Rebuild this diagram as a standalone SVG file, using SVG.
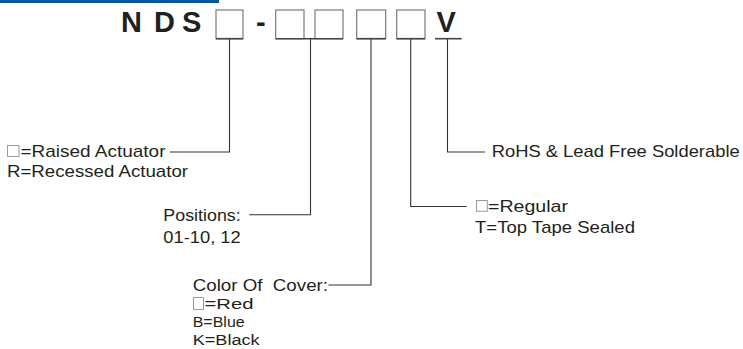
<svg xmlns="http://www.w3.org/2000/svg" width="743" height="349" viewBox="0 0 743 349">
<style>
.hdr{font-family:"Liberation Sans",Arial,sans-serif;font-weight:bold;font-size:29px;fill:#231f20}
.lbl{font-family:"Liberation Sans",Arial,sans-serif;font-size:17px;fill:#231f20;white-space:pre}
.sm{font-size:15.5px}
.box{fill:#fff;stroke:#7a7a7a;stroke-width:1.2}
.boxb{stroke:#444;stroke-width:1.6;fill:none}
.sbox{fill:#fff;stroke:#9a9a9a;stroke-width:1}
.con{fill:none;stroke:#333;stroke-width:1.1}
</style>
<rect x="0" y="0" width="219" height="3" fill="#0057a6"/>
<g id="code">
<text class="hdr" x="121" y="32">N</text>
<text class="hdr" x="154" y="32">D</text>
<text class="hdr" x="182" y="32">S</text>
<text class="hdr" x="256" y="32">-</text>
<text class="hdr" x="436.5" y="32">V</text>
<rect class="box" x="216" y="10" width="27" height="28.7"/>
<rect class="box" x="275.7" y="10" width="28.3" height="28.7"/>
<rect class="box" x="315" y="10" width="28" height="28.7"/>
<rect class="box" x="356.7" y="10" width="29" height="28.7"/>
<rect class="box" x="396.7" y="10" width="28.3" height="28.7"/>
<line class="boxb" x1="216" y1="38.7" x2="243" y2="38.7"/>
<line class="boxb" x1="275.7" y1="38.7" x2="343" y2="38.7"/>
<line class="boxb" x1="356.7" y1="38.7" x2="385.7" y2="38.7"/>
<line class="boxb" x1="396.7" y1="38.7" x2="425" y2="38.7"/>
<line class="boxb" x1="435" y1="38.7" x2="461.7" y2="38.7"/>
</g>
<g id="connectors">
<polyline class="con" points="229.5,38.7 229.5,152 170,152"/>
<polyline class="con" points="310.5,38.7 310.5,214.7 249.3,214.7"/>
<polyline class="con" points="371,38.7 371,285 328.5,285"/>
<polyline class="con" points="410.7,38.7 410.7,206.5 466.7,206.5"/>
<polyline class="con" points="447.5,38.7 447.5,152 485,152"/>
</g>
<g id="actuator">
<rect class="sbox" x="7.5" y="145.5" width="11.5" height="11"/>
<text class="lbl" x="20.5" y="156.7" textLength="145" lengthAdjust="spacingAndGlyphs">=Raised Actuator</text>
<text class="lbl" x="7" y="176.7" textLength="181" lengthAdjust="spacingAndGlyphs">R=Recessed Actuator</text>
</g>
<g id="positions">
<text class="lbl" x="163.3" y="221" textLength="77.4" lengthAdjust="spacingAndGlyphs">Positions:</text>
<text class="lbl" x="163.3" y="243.3" textLength="77.4" lengthAdjust="spacingAndGlyphs">01-10, 12</text>
</g>
<g id="cover">
<text class="lbl" x="192.7" y="290.7" textLength="135.3" lengthAdjust="spacingAndGlyphs">Color Of  Cover:</text>
<rect class="sbox" x="193.5" y="297.5" width="10" height="12"/>
<text class="lbl sm" x="204.5" y="309" textLength="49" lengthAdjust="spacingAndGlyphs">=Red</text>
<text class="lbl sm" x="192.7" y="327" textLength="52" lengthAdjust="spacingAndGlyphs">B=Blue</text>
<text class="lbl sm" x="192.7" y="345" textLength="67" lengthAdjust="spacingAndGlyphs">K=Black</text>
</g>
<g id="sealing">
<rect class="sbox" x="476.5" y="200.5" width="10.8" height="10.8"/>
<text class="lbl" x="488" y="212" textLength="80" lengthAdjust="spacingAndGlyphs">=Regular</text>
<text class="lbl" x="475" y="233.3" textLength="160" lengthAdjust="spacingAndGlyphs">T=Top Tape Sealed</text>
</g>
<g id="rohs">
<text class="lbl" x="491.7" y="157.3" textLength="248" lengthAdjust="spacingAndGlyphs">RoHS &amp; Lead Free Solderable</text>
</g>
</svg>
